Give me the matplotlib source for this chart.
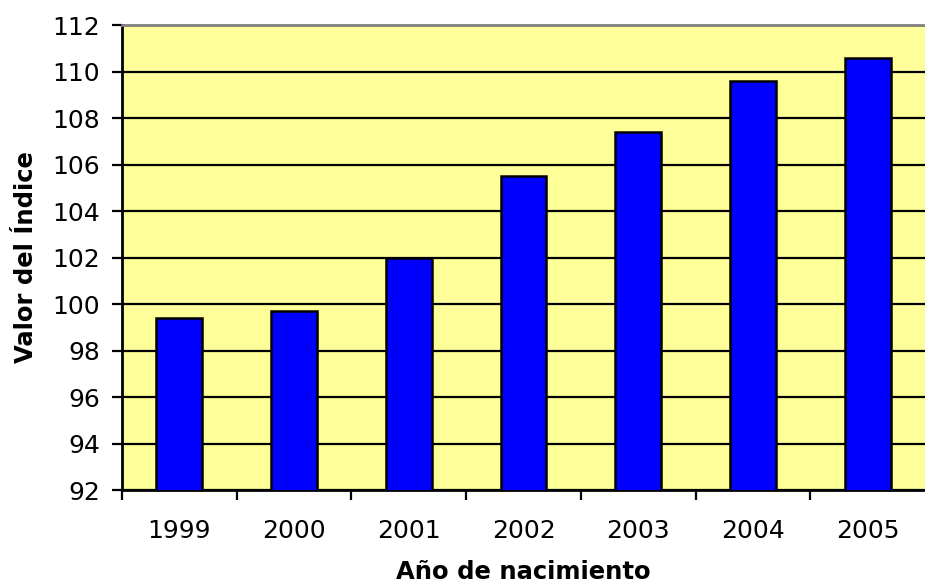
import numpy as np
import matplotlib.pyplot as plt

years = ['1999', '2000', '2001', '2002', '2003', '2004', '2005']
index_values = [99.4, 99.7, 102.0, 105.5, 107.4, 109.6, 110.6]
y_ticks = np.arange(92, 113, 2)

fig = plt.figure(figsize=(9.25, 5.85), dpi=100)
ax = fig.add_axes([122 / 925, 1 - 490 / 585, 1 - 122 / 925, 465 / 585])
ax.set_facecolor('#FFFF99')

x = np.arange(len(years))
ax.bar(x, index_values, width=0.4, color='#0000FF', edgecolor='black',
       linewidth=1.8, zorder=3)

ax.set_xlim(-0.5, len(years) - 0.5)
ax.set_ylim(92, 112)
ax.set_yticks(y_ticks)
ax.yaxis.grid(True, color='black', linewidth=1.6, zorder=1)
ax.set_axisbelow(True)

# ticks between categories, labels under centers
ax.set_xticks(np.arange(len(years)) - 0.5)
ax.set_xticklabels([])
ax.set_xticks(x, minor=True)
ax.set_xticklabels(years, minor=True)
ax.tick_params(axis='x', which='major', length=7, width=1.6, direction='out')
ax.tick_params(axis='x', which='minor', length=0, pad=21, labelsize=18)
ax.tick_params(axis='y', length=7, width=1.6, direction='out', pad=9, labelsize=18)

for side in ['left', 'bottom']:
    ax.spines[side].set_linewidth(2)
    ax.spines[side].set_color('black')
ax.spines['top'].set_color('#808080')
ax.spines['top'].set_linewidth(2)
ax.spines['right'].set_visible(False)

ax.set_xlabel('Año de nacimiento', fontsize=17.5, fontweight='bold', labelpad=12)
ax.set_ylabel('Valor del Índice', fontsize=17.5, fontweight='bold', labelpad=10)

fig.savefig('out.png', dpi=100)
